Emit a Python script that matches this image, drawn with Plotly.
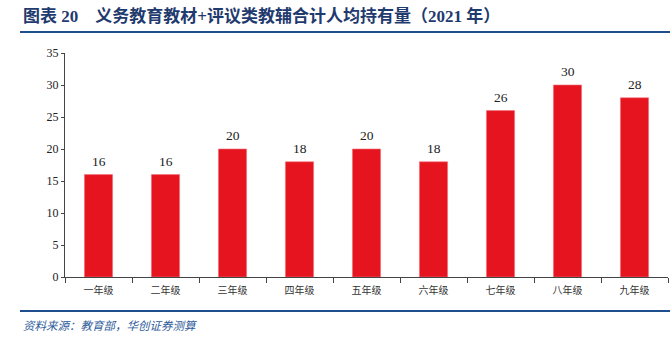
import plotly.graph_objects as go

categories = ["一年级", "二年级", "三年级", "四年级", "五年级", "六年级", "七年级", "八年级", "九年级"]
values = [16, 16, 20, 18, 20, 18, 26, 30, 28]
y_ticks = [0, 5, 10, 15, 20, 25, 30, 35]
title_text = "图表 20　义务教育教材+评议类教辅合计人均持有量（2021 年）"
source_text = "资料来源：教育部，华创证券测算"

W, H = 670, 337
L, R, T, B = 65, 2, 53, 60
pw, ph = W - L - R, H - T - B

def px(x):
    return (x - L) / pw

def py(y):
    return (H - B - y) / ph

fig = go.Figure(go.Bar(
    x=categories, y=values, width=0.42,
    marker=dict(color="#E5141F", line=dict(color="#F0707A", width=0.6)),
))

for c, v in zip(categories, values):
    fig.add_annotation(x=c, y=v, text=str(v), showarrow=False, yanchor="bottom", yshift=4,
                       font=dict(family="Liberation Serif", size=13.5, color="#222"))

fig.update_layout(
    width=W, height=H, margin=dict(l=L, r=R, t=T, b=B),
    paper_bgcolor="white", plot_bgcolor="white", showlegend=False,
    font=dict(family="Liberation Serif, Noto Sans CJK SC", color="#222"),
)
fig.update_yaxes(range=[0, 35], tickvals=y_ticks, showgrid=False, zeroline=False,
                 showline=True, linecolor="#444", linewidth=1, ticks="outside", ticklen=3,
                 tickcolor="#444", tickfont=dict(family="Liberation Serif", size=12, color="#222"))
fig.update_xaxes(showgrid=False, showline=True, linecolor="#444", linewidth=1,
                 ticks="outside", tickson="boundaries", ticklen=5, tickcolor="#444",
                 ticklabelstandoff=4,
                 tickfont=dict(family="Noto Sans CJK SC", size=10, color="#333"))

shapes = [
    dict(type="line", xref="paper", yref="paper", x0=px(20), x1=px(670), y0=py(32), y1=py(32),
         line=dict(color="#1F4E8C", width=2)),
    dict(type="line", xref="paper", yref="paper", x0=px(20), x1=px(670), y0=py(311), y1=py(311),
         line=dict(color="#1F4E8C", width=2)),
]
fig.update_layout(shapes=shapes)

fig.add_annotation(xref="paper", yref="paper", x=px(21), y=py(16), xanchor="left", yanchor="middle",
                   text="<b>" + title_text + "</b>", showarrow=False,
                   font=dict(family="Liberation Serif, Noto Sans CJK SC", size=17, color="#1F3A6E"))
fig.add_annotation(xref="paper", yref="paper", x=px(21), y=py(325), xanchor="left", yanchor="middle",
                   text="<i>" + source_text + "</i>", showarrow=False,
                   font=dict(family="Noto Sans CJK SC", size=11.5, color="#2F5B9A"))

fig.write_html("out.html")
